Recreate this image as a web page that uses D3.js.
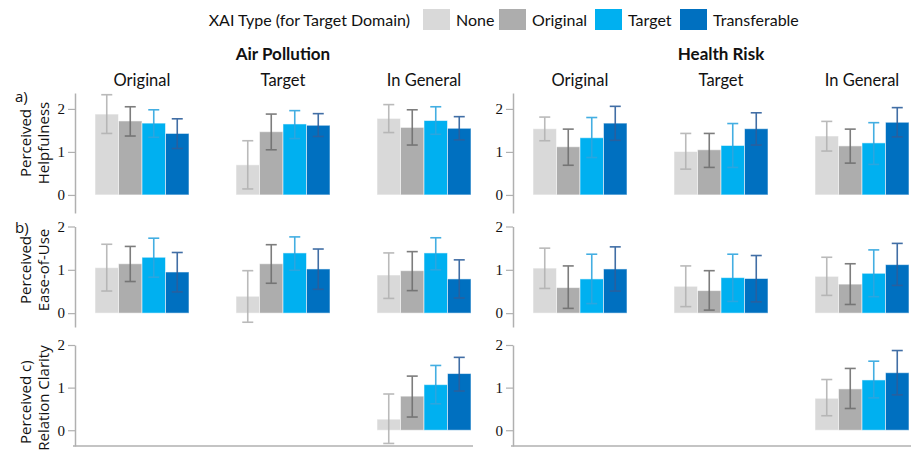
<!DOCTYPE html>
<html>
<head>
<meta charset="utf-8">
<script src="https://cdn.jsdelivr.net/npm/d3@7"></script>
<style>
  body { margin: 0; background: #fff; }
  text { font-family: Lato, "Open Sans", sans-serif; fill: #111; }
</style>
</head>
<body>
<div id="canvas"></div>
<script>
const width = 917;
const height = 470;

// categories
const domains = ["Air Pollution", "Health Risk"];
const aspects = ["Original", "Target", "In General"];
const xaiTypes = ["None", "Original", "Target", "Transferable"];
const yTicks = [0, 1, 2];

// values, [domain][aspect][xai type]
const helpMean = [
  [[1.88, 1.72, 1.67, 1.43], [0.70, 1.47, 1.65, 1.62], [1.78, 1.57, 1.73, 1.55]],
  [[1.54, 1.12, 1.33, 1.67], [1.01, 1.05, 1.15, 1.54], [1.37, 1.14, 1.21, 1.69]]
];
const helpLo = [
  [[1.43, 1.37, 1.34, 1.08], [0.14, 1.05, 1.31, 1.36], [1.45, 1.16, 1.41, 1.28]],
  [[1.26, 0.69, 0.87, 1.27], [0.60, 0.64, 0.64, 1.16], [1.02, 0.74, 0.71, 1.35]]
];
const helpHi = [
  [[2.33, 2.05, 1.98, 1.77], [1.26, 1.88, 1.96, 1.89], [2.10, 1.98, 2.05, 1.82]],
  [[1.81, 1.53, 1.80, 2.06], [1.43, 1.43, 1.66, 1.91], [1.71, 1.53, 1.68, 2.03]]
];

const easeMean = [
  [[1.05, 1.14, 1.29, 0.95], [0.39, 1.14, 1.39, 1.02], [0.88, 0.98, 1.39, 0.79]],
  [[1.04, 0.59, 0.79, 1.02], [0.62, 0.52, 0.82, 0.80], [0.85, 0.67, 0.92, 1.12]]
];
const easeLo = [
  [[0.51, 0.73, 0.83, 0.49], [-0.21, 0.69, 0.99, 0.55], [0.34, 0.52, 1.00, 0.35]],
  [[0.57, 0.11, 0.22, 0.51], [0.15, 0.07, 0.27, 0.26], [0.41, 0.20, 0.38, 0.64]]
];
const easeHi = [
  [[1.59, 1.54, 1.73, 1.40], [0.98, 1.58, 1.76, 1.48], [1.39, 1.42, 1.74, 1.23]],
  [[1.50, 1.09, 1.36, 1.53], [1.09, 0.98, 1.36, 1.33], [1.29, 1.14, 1.46, 1.61]]
];

// relation clarity only asked "In General"
const clarMean = [
  [null, null, [0.26, 0.80, 1.07, 1.33]],
  [null, null, [0.75, 0.97, 1.18, 1.35]]
];
const clarLo = [
  [null, null, [-0.31, 0.31, 0.62, 0.92]],
  [null, null, [0.34, 0.51, 0.76, 0.83]]
];
const clarHi = [
  [null, null, [0.85, 1.27, 1.52, 1.71]],
  [null, null, [1.19, 1.45, 1.62, 1.87]]
];

const fills = ["#d9d9d9", "#adadad", "#00b0f0", "#0070c0"];
const errColors = ["#b3b3b3", "#6f6f6f", "#2fa6df", "#2d5f9c"];

const rows = [
  { tag: "a)", label: ["Perceived", "Helpfulness"], mean: helpMean, lo: helpLo, hi: helpHi,
    top: 93, bottom: 213, dom: [-0.42, 2.37], labelY: 143, tagY: 96 },
  { tag: "b)", label: ["Perceived", "Ease-of-Use"], mean: easeMean, lo: easeLo, hi: easeHi,
    top: 226.5, bottom: 327, dom: [-0.32, 2], labelY: 270, tagY: 227 },
  { tag: "c)", label: ["Perceived", "Relation Clarity"], mean: clarMean, lo: clarLo, hi: clarHi,
    top: 345, bottom: 446, dom: [-0.37, 2], labelY: 398 }
];

const panelX = [75, 513];
const panelW = 398;

const svg = d3.select("#canvas")
    .append("svg")
    .attr("width", width)
    .attr("height", height);

// legend
const legendX = [423, 499, 595, 680];
svg.append("text")
    .attr("x", 410)
    .attr("y", 19)
    .attr("text-anchor", "end")
    .attr("dominant-baseline", "central")
    .style("font-size", "16px")
    .text("XAI Type (for Target Domain)");
xaiTypes.forEach(function(t, i) {
    svg.append("rect")
        .attr("x", legendX[i])
        .attr("y", 9)
        .attr("width", 27)
        .attr("height", 21)
        .attr("fill", fills[i]);
    svg.append("text")
        .attr("x", legendX[i] + 33)
        .attr("y", 19)
        .attr("dominant-baseline", "central")
        .style("font-size", "16px")
        .text(t);
});

// groups inside a panel
const x0 = d3.scaleBand().domain(aspects).range([20, 396]).paddingInner(1 / 3);
const x1 = d3.scaleBand().domain(xaiTypes).range([0, x0.bandwidth()]);

domains.forEach(function(dname, di) {
    const px = panelX[di];
    svg.append("text")
        .attr("x", px + (x0.range()[0] + x0.range()[1]) / 2)
        .attr("y", 53)
        .attr("text-anchor", "middle")
        .attr("dominant-baseline", "central")
        .style("font-size", "17px")
        .style("font-weight", "bold")
        .text(dname);

    aspects.forEach(function(a) {
        svg.append("text")
            .attr("x", px + x0(a) + x0.bandwidth() / 2)
            .attr("y", 80)
            .attr("text-anchor", "middle")
            .attr("dominant-baseline", "central")
            .style("font-size", "16.5px")
            .text(a);
    });
});

rows.forEach(function(row, ri) {
    const y = d3.scaleLinear().domain(row.dom).range([row.bottom, row.top]);

    // row label
    const lab = svg.append("g");
    if (ri < 2) {
        svg.append("text")
            .attr("x", 15)
            .attr("y", row.tagY)
            .attr("dominant-baseline", "central")
            .style("font-family", "'Open Sans', sans-serif")
            .style("font-size", "15px")
            .text(row.tag);
        lab.append("text")
            .attr("transform", `translate(25,${row.labelY})rotate(-90)`)
            .attr("text-anchor", "middle")
            .attr("dominant-baseline", "central")
            .style("font-family", "'Open Sans', sans-serif")
            .style("font-size", "15px")
            .text(row.label[0]);
    } else {
        lab.append("text")
            .attr("transform", `translate(25,${row.bottom - 2})rotate(-90)`)
            .attr("text-anchor", "start")
            .attr("dominant-baseline", "central")
            .style("font-family", "'Open Sans', sans-serif")
            .style("font-size", "15px")
            .text(row.label[0] + "  " + row.tag);
    }
    lab.append("text")
        .attr("transform", `translate(43,${row.labelY})rotate(-90)`)
        .attr("text-anchor", "middle")
        .attr("dominant-baseline", "central")
        .style("font-family", "'Open Sans', sans-serif")
        .style("font-size", "15px")
        .text(row.label[1]);

    domains.forEach(function(dname, di) {
        const g = svg.append("g").attr("transform", `translate(${panelX[di]},0)`);

        const ax = g.append("g")
            .call(d3.axisLeft(y).tickValues(yTicks).tickFormat(d3.format("d")).tickSize(7).tickSizeOuter(0));
        ax.select(".domain").attr("stroke", "#b0b0b0").attr("stroke-width", 1.5);
        ax.selectAll(".tick line").attr("stroke", "#b0b0b0").attr("stroke-width", 1.2);
        ax.selectAll(".tick text")
            .style("font-family", "'Liberation Serif', serif")
            .style("font-size", "15px")
            .attr("fill", "#222");

        if (ri === 2) {
            g.append("line")
                .attr("x1", -2)
                .attr("x2", panelW)
                .attr("y1", row.bottom)
                .attr("y2", row.bottom)
                .attr("stroke", "#b0b0b0")
                .attr("stroke-width", 1.5);
        }

        aspects.forEach(function(a, ai) {
            const m = row.mean[di][ai];
            if (!m) return;
            const lo = row.lo[di][ai];
            const hi = row.hi[di][ai];
            const grp = g.append("g").attr("transform", `translate(${x0(a)},0)`);

            grp.selectAll("rect")
                .data(xaiTypes)
                .join("rect")
                .attr("x", d => x1(d))
                .attr("width", x1.bandwidth())
                .attr("y", (d, i) => y(Math.max(0, m[i])))
                .attr("height", (d, i) => Math.abs(y(m[i]) - y(0)))
                .attr("fill", (d, i) => fills[i])
                .attr("stroke", "#fff")
                .attr("stroke-opacity", 0.55)
                .attr("stroke-width", 1);

            const err = grp.selectAll(".err")
                .data(xaiTypes)
                .join("g")
                .attr("class", "err")
                .attr("stroke", (d, i) => errColors[i])
                .attr("stroke-width", 1.6)
                .attr("opacity", 0.9);
            err.append("line")
                .attr("x1", d => x1(d) + x1.bandwidth() / 2)
                .attr("x2", d => x1(d) + x1.bandwidth() / 2)
                .attr("y1", (d, i) => y(lo[i]))
                .attr("y2", (d, i) => y(hi[i]));
            [lo, hi].forEach(function(v) {
                err.append("line")
                    .attr("x1", d => x1(d) + x1.bandwidth() / 2 - 5.5)
                    .attr("x2", d => x1(d) + x1.bandwidth() / 2 + 5.5)
                    .attr("y1", (d, i) => y(v[i]))
                    .attr("y2", (d, i) => y(v[i]));
            });
        });
    });
});
</script>
</body>
</html>
